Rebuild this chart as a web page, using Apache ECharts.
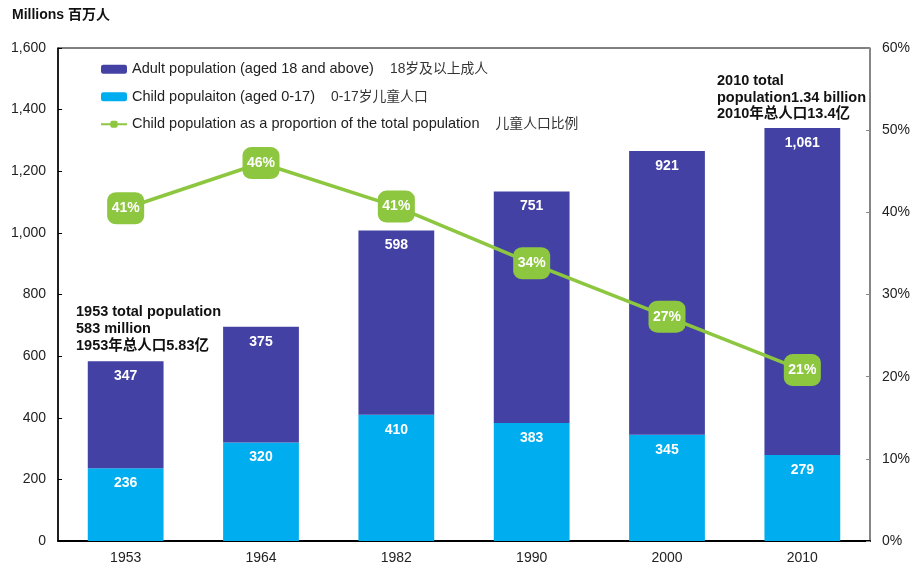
<!DOCTYPE html>
<html><head><meta charset="utf-8">
<script src="https://cdn.jsdelivr.net/npm/echarts@6/dist/echarts.min.js"></script>
<style>html,body{margin:0;padding:0;background:#fff}#c{width:915px;height:568px}</style>
</head><body><div id="c"></div>
<script>
const years = ['1953','1964','1982','1990','2000','2010'];
const adult = [347,375,598,751,921,1061];
const child = [236,320,410,383,345,279];
const childShare = [40.5,46.0,40.7,33.8,27.3,20.8];
const leftTicks = {min:0,max:1600,interval:200};
const rightTicks = {min:0,max:60,interval:10};
const legendEn = ['Adult population (aged 18 and above)','Child populaiton (aged 0-17)','Child population as a proportion of the total population'];
const legendCn = ['18岁及以上成人','0-17岁儿童人口','儿童人口比例'];
const note1953 = '1953 total population\n583 million\n1953年总人口5.83亿';
const note2010 = '2010 total\npopulation1.34 billion\n2010年总人口13.4亿';

const names = legendEn.map((e,i)=>e+'    '+legendCn[i]);
const FONT = '"Liberation Sans", Arial, "Noto Sans CJK SC", sans-serif';
const chart = echarts.init(document.getElementById('c'));
chart.setOption({
  animation:false,
  textStyle:{fontFamily:FONT},
  grid:{left:58,right:45,top:48,bottom:27,show:true,borderColor:'#000',borderWidth:1,backgroundColor:'transparent'},
  legend:{
    orient:'vertical',left:95,top:57,itemGap:13,itemWidth:26,itemHeight:9,
    textStyle:{fontSize:14.5,color:'#222',fontFamily:FONT,
      rich:{en:{fontSize:14.5,color:'#222'},cn:{fontSize:13.8,color:'#333'}}},
    formatter:function(n){const i=names.indexOf(n);return '{en|'+legendEn[i]+'    }{cn|'+legendCn[i]+'}';},
    data:names
  },
  xAxis:{
    type:'category',data:years,
    axisLine:{lineStyle:{color:'#000',width:2}},
    axisTick:{show:false},
    axisLabel:{fontSize:14,color:'#222',margin:10}
  },
  yAxis:[
    {type:'value',min:leftTicks.min,max:leftTicks.max,interval:leftTicks.interval,
     axisLine:{show:true,lineStyle:{color:'#000',width:1.5}},
     axisTick:{show:true,inside:true,length:4,lineStyle:{color:'#000'}},
     splitLine:{show:false},
     axisLabel:{fontSize:14,color:'#222',margin:12,formatter:v=>v.toLocaleString('en-US')}},
    {type:'value',min:rightTicks.min,max:rightTicks.max,interval:rightTicks.interval,
     axisLine:{show:true,lineStyle:{color:'#888',width:1.5}},
     axisTick:{show:true,inside:true,length:4,lineStyle:{color:'#888'}},
     splitLine:{show:false},
     axisLabel:{fontSize:14,color:'#222',margin:12,formatter:'{value}%'}}
  ],
  series:[
    {name:names[1],type:'bar',stack:'pop',data:child,barWidth:'56%',
     itemStyle:{color:'#00ADEF'},
     label:{show:true,position:'insideTop',distance:8,color:'#fff',fontWeight:'bold',fontSize:14,fontFamily:FONT}},
    {name:names[0],type:'bar',stack:'pop',data:adult,barWidth:'56%',
     itemStyle:{color:'#4441A5'},
     label:{show:true,position:'insideTop',distance:8,color:'#fff',fontWeight:'bold',fontSize:14,fontFamily:FONT,
       formatter:p=>p.value.toLocaleString('en-US')}},
    {name:names[2],type:'line',yAxisIndex:1,data:childShare,z:5,
     lineStyle:{color:'#8DC63F',width:3.5},
     itemStyle:{color:'#8DC63F'},
     symbol:'roundRect',symbolSize:[37,32],
     label:{show:true,position:'inside',color:'#fff',fontWeight:'bold',fontSize:14,fontFamily:FONT,
       formatter:p=>Math.round(p.value)+'%'}}
  ],
  graphic:[
    {type:'text',left:12,top:8,style:{text:'Millions 百万人',font:'bold 14px '+FONT,fill:'#111'}},
    {type:'text',left:76,top:303,style:{text:note1953,font:'bold 14.5px '+FONT,fill:'#111',lineHeight:17}},
    {type:'text',left:717,top:73,style:{text:note2010,font:'bold 14.5px '+FONT,fill:'#111',lineHeight:16.5}}
  ]
});
</script></body></html>
